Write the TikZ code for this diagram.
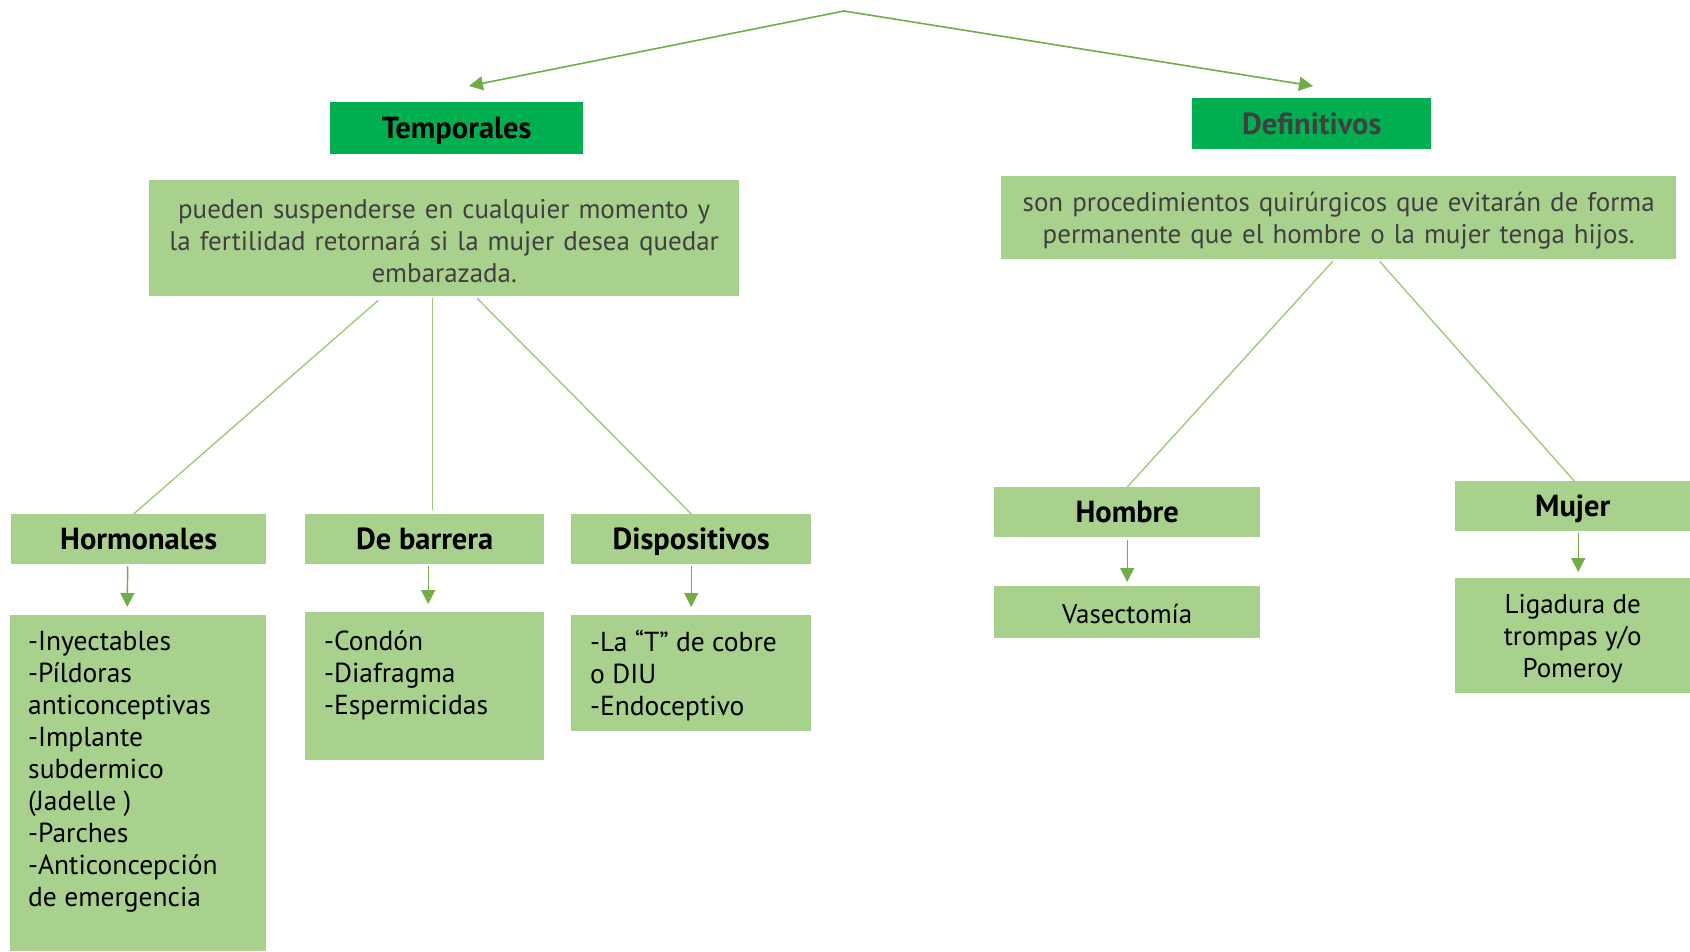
\documentclass[tikz,border=0pt]{standalone}
\usepackage{fontspec}
\setmainfont{PT Sans}
\usetikzlibrary{arrows.meta,calc}
\definecolor{dkgreen}{HTML}{00B050}
\definecolor{ltgreen}{HTML}{A9D18E}
\definecolor{argreen}{HTML}{70AD47}
\definecolor{lngreen}{HTML}{9CCB7E}
\definecolor{txtgray}{HTML}{404040}
\begin{document}
\begin{tikzpicture}[x=1pt,y=-1pt,
  gbox/.style={fill=ltgreen, draw=none, inner sep=0pt, anchor=north west, align=center, text=txtgray},
  dbox/.style={fill=dkgreen, draw=none, inner sep=0pt, anchor=north west, align=center},
  head/.style={font=\fontsize{30.5}{36}\selectfont\bfseries, text=black, text height=21pt, text depth=0pt},
  body/.style={font=\fontsize{27}{32}\selectfont},
  listtxt/.style={anchor=north west, inner sep=0pt, align=left, text=black, font=\fontsize{27.5}{32}\selectfont},
  toparrow/.style={draw=argreen, line width=1.6pt, -{Triangle[length=14pt,width=14pt]}},
  downarrow/.style={draw=argreen, line width=1.4pt, -{Triangle[length=14pt,width=14pt]}},
  link/.style={draw=lngreen, line width=1.4pt}
]
\useasboundingbox (0,0) rectangle (1690,951);

% top level
\coordinate (apex) at (844,11);
\coordinate (tl) at (469,86);
\coordinate (tr) at (1313,86);
\draw[toparrow] (apex) -- (tl);
\draw[toparrow] (apex) -- (tr);

\node[dbox, head, minimum width=253, minimum height=52] (temp) at (330,102) {Temporales};
\node[dbox, head, text=txtgray, minimum width=239, minimum height=51] (defi) at (1192,98) {Definitivos};

\node[gbox, body, minimum width=590, minimum height=116, text width=575] (tdesc) at (149,180)
  {\rule{0pt}{24pt}pueden suspenderse en cualquier momento y\\ la fertilidad retornará si la mujer desea quedar\\ embarazada.};
\node[gbox, body, minimum width=675, minimum height=83, text width=665] (ddesc) at (1001,176)
  {\rule{0pt}{26pt}son procedimientos quirúrgicos que evitarán de forma\\ permanente que el hombre o la mujer tenga hijos.};

% temporales branches
\node[gbox, head, minimum width=255, minimum height=50] (horm) at (11,514) {Hormonales};
\node[gbox, head, minimum width=239, minimum height=50] (barr) at (305,514) {De barrera};
\node[gbox, head, minimum width=240, minimum height=50] (disp) at (571,514) {Dispositivos};

\draw[link] ($(tdesc.south)+(-66,4)$) -- ($(horm.north)+(-5,0)$);
\draw[link] ($(tdesc.south)+(-12,2)$) -- ($(barr.north)+(7.5,-4)$);
\draw[link] ($(tdesc.south)+(33,2)$) -- (disp.north);

\node[gbox, minimum width=256, minimum height=336] (hlist) at (10,615) {};
\node[gbox, minimum width=239, minimum height=148] (blist) at (305,612) {};
\node[gbox, minimum width=240, minimum height=116] (dlist) at (571,615) {};

\node[listtxt] (htxt) at ($(hlist.north west)+(18,16)$)
  {-Inyectables\\-Píldoras\\anticonceptivas\\-Implante\\subdermico\\(Jadelle )\\-Parches\\-Anticoncepción\\de emergencia};
\node[listtxt] (btxt) at ($(blist.north west)+(19,18)$)
  {-Condón\\-Diafragma\\-Espermicidas};
\node[listtxt] (dtxt) at ($(dlist.north west)+(19,15)$)
  {-La “T” de cobre\\o DIU\\-Endoceptivo};

\draw[downarrow] ($(horm.south)+(-11,2)$) -- ($(hlist.north)+(-11,-8)$);
\draw[downarrow] ($(barr.south)+(3.5,2)$) -- ($(blist.north)+(3.5,-8)$);
\draw[downarrow] ($(disp.south)+(0,2)$) -- ($(dlist.north)+(0,-8)$);

% definitivos branches
\node[gbox, head, minimum width=266, minimum height=50] (homb) at (994,487) {Hombre};
\node[gbox, head, minimum width=235, minimum height=50] (muj) at (1455,481) {Mujer};

\draw[link] ($(ddesc.south)+(-6,2)$) -- (homb.north);
\draw[link] ($(ddesc.south)+(41,2)$) -- ($(muj.north)+(1.5,0)$);

\node[gbox, body, text=black, minimum width=266, minimum height=52] (vase) at (994,586) {\rule{0pt}{22pt}Vasectomía};
\node[gbox, body, text=black, minimum width=235, minimum height=115] (liga) at (1455,578)
  {\rule{0pt}{26pt}Ligadura de\\ trompas y/o\\ Pomeroy};

\draw[downarrow] ($(homb.south)+(0,3)$) -- ($(vase.north)+(0,-4)$);
\draw[downarrow] ($(muj.south)+(5.5,2)$) -- ($(liga.north)+(5.5,-6)$);
\end{tikzpicture}
\end{document}
